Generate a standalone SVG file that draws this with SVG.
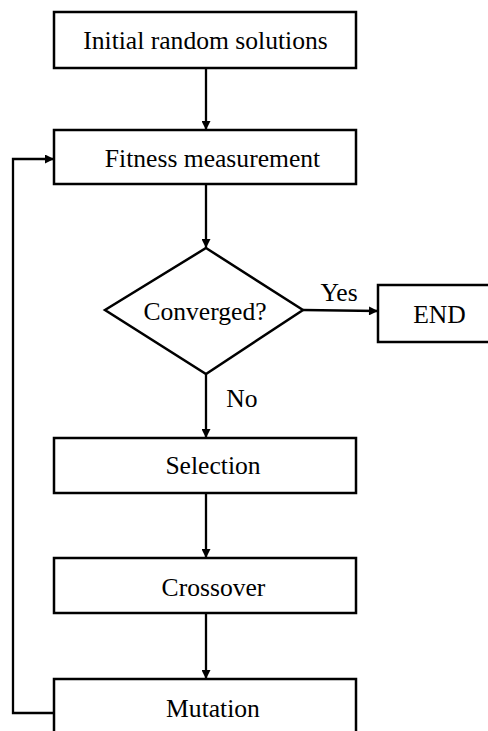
<svg xmlns="http://www.w3.org/2000/svg" width="488" height="731" viewBox="0 0 488 731">
<defs>
<style>
.box{fill:#fff;stroke:#000;stroke-width:2.5}
.t{font-family:"Liberation Serif","Times New Roman",serif;font-size:25.6px;fill:#000;text-anchor:middle}
.c{fill:none;stroke:#000;stroke-width:2.3}
</style>
<marker id="ah" viewBox="0 0 10 10" refX="10" refY="5" markerWidth="10" markerHeight="9" markerUnits="userSpaceOnUse" orient="auto">
<path d="M0,0 L10,5 L0,10 Z" fill="#000"/>
</marker>
</defs>
<rect width="488" height="731" fill="#fff"/>
<g id="connectors">
<path class="c" d="M206,68 V130" marker-end="url(#ah)"/>
<path class="c" d="M206,184 V248" marker-end="url(#ah)"/>
<path class="c" d="M303,310 L378,311" marker-end="url(#ah)"/>
<path class="c" d="M206,374 V438" marker-end="url(#ah)"/>
<path class="c" d="M206,493 V558" marker-end="url(#ah)"/>
<path class="c" d="M206,613 V679" marker-end="url(#ah)"/>
<path class="c" d="M54,713 H13 V159 H54" marker-end="url(#ah)"/>
<text class="t" x="339" y="301">Yes</text>
<text class="t" x="242" y="407">No</text>
</g>
<g id="initial">
<rect class="box" x="54" y="12" width="302" height="56"/>
<text class="t" x="205.5" y="49">Initial random solutions</text>
</g>
<g id="fitness">
<rect class="box" x="54" y="130" width="302" height="54"/>
<text class="t" x="212.5" y="167">Fitness measurement</text>
</g>
<g id="converged">
<polygon class="box" points="206,248 303,310 206,374 105,310"/>
<text class="t" x="205" y="320">Converged?</text>
</g>
<g id="end">
<rect class="box" x="378" y="285" width="120" height="57"/>
<text class="t" x="439.5" y="323">END</text>
</g>
<g id="selection">
<rect class="box" x="54" y="438" width="302" height="55"/>
<text class="t" x="213" y="474">Selection</text>
</g>
<g id="crossover">
<rect class="box" x="54" y="558" width="302" height="55"/>
<text class="t" x="213.5" y="596">Crossover</text>
</g>
<g id="mutation">
<rect class="box" x="54" y="679" width="302" height="70"/>
<text class="t" x="213" y="717">Mutation</text>
</g>
</svg>
